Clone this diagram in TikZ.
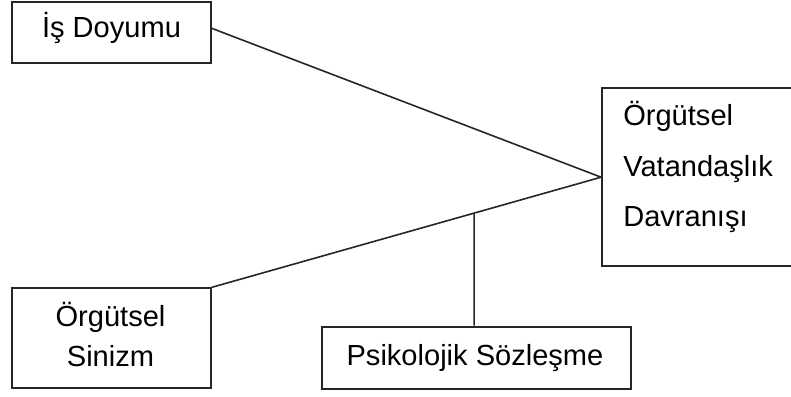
\documentclass[tikz,border=0pt]{standalone}
\usepackage{fontspec}
\setmainfont{Liberation Sans}
\begin{document}
\begin{tikzpicture}[x=0.75pt,y=-0.75pt,
  box/.style={draw=black!85,line width=1.4pt,inner sep=0pt,fill=white},
  lbl/.style={inner sep=0pt,font=\fontsize{21.8}{26}\selectfont,text=black},
  conn/.style={draw=black!85,line width=1.2pt}]
\useasboundingbox (0,0) rectangle (791,396);
\node[box,minimum width=149.25pt,minimum height=45.75pt] (isd) at (111.2,32.8) {};
\node[box,minimum width=147pt,minimum height=133.3pt] (ovd) at (700,177.2) {};
\node[box,minimum width=149.25pt,minimum height=75pt] (sin) at (111.2,338.3) {};
\node[box,minimum width=231.5pt,minimum height=47pt] (psk) at (476.7,358) {};
\node[lbl,anchor=base] (isdt) at (111.5,37.7) {İş Doyumu};
\node[lbl,anchor=base west] (ovd1) at (623,125) {Örgütsel};
\node[lbl,anchor=base west] (ovd2) at (623,176.7) {Vatandaşlık};
\node[lbl,anchor=base west] (ovd3) at (623,226.7) {Davranışı};
\node[lbl,anchor=base] (sin1) at (110.5,326.7) {Örgütsel};
\node[lbl,anchor=base] (sin2) at (110.5,366.7) {Sinizm};
\node[lbl,anchor=base] (pskt) at (475,365) {Psikolojik Sözleşme};
\coordinate (pskn) at ([xshift=-1.9pt]psk.north);
\coordinate (psks) at ([xshift=-1.9pt]psk.south);
\draw[conn] ([yshift=3.4pt]isd.east) -- (ovd.west);
\draw[conn] (sin.north east) -- (ovd.west);
\draw[conn] (pskn) -- (intersection of sin.north east--ovd.west and pskn--psks);
\end{tikzpicture}
\end{document}
